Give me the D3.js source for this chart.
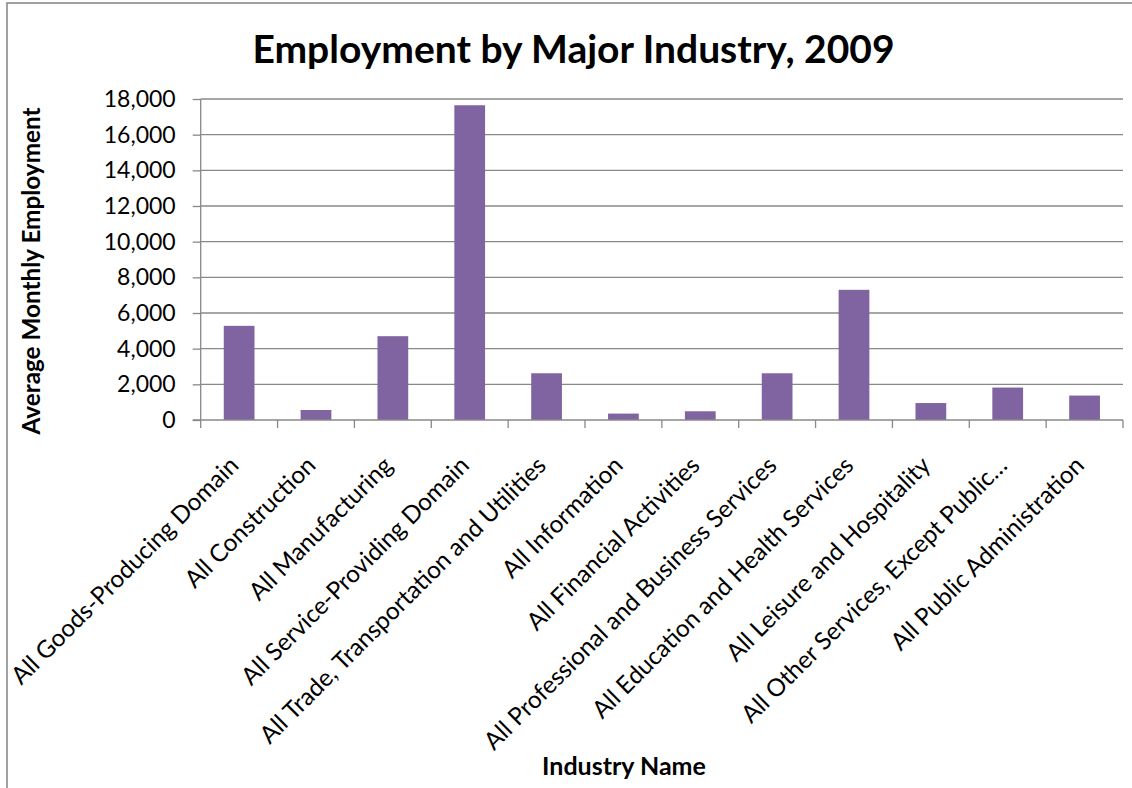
<!DOCTYPE html>
<html>
<head>
<meta charset="utf-8">
<script src="https://cdn.jsdelivr.net/npm/d3@7/dist/d3.min.js"></script>
<style>
  html, body { margin: 0; padding: 0; background: #fff; }
  svg { display: block; }
  text { font-family: Lato, "Noto Sans", "DejaVu Sans", sans-serif; fill: #000; }
</style>
</head>
<body>
<svg id="chart" width="1132" height="788"></svg>
<script>
// Average monthly employment by major industry, 2009
const industries = [
  "All Goods-Producing Domain",
  "All Construction",
  "All Manufacturing",
  "All Service-Providing Domain",
  "All Trade, Transportation and Utilities",
  "All Information",
  "All Financial Activities",
  "All Professional and Business Services",
  "All Education and Health Services",
  "All Leisure and Hospitality",
  "All Other Services, Except Public…",
  "All Public Administration"
];
const employment = [5280, 560, 4700, 17650, 2620, 360, 490, 2620, 7300, 950, 1820, 1370];
const yTicks = [0, 2000, 4000, 6000, 8000, 10000, 12000, 14000, 16000, 18000];

const chartTitle = "Employment by Major Industry, 2009";
const xTitle = "Industry Name";
const yTitle = "Average Monthly Employment";

const svg = d3.select("#chart");

const plot = { left: 200.7, right: 1123, top: 99, bottom: 420 };
const barColor = "#8064A2";
const gridColor = "#888888";

// chart frame (only the top and left edges fall inside the view)
svg.append("rect")
  .attr("x", 7).attr("y", 3)
  .attr("width", 1200).attr("height", 900)
  .attr("fill", "none")
  .attr("stroke", "#8a8a8a")
  .attr("stroke-width", 1.6);

const x = d3.scaleBand()
  .domain(industries)
  .range([plot.left, plot.right])
  .paddingInner(0.6)
  .paddingOuter(0.3);

const y = d3.scaleLinear()
  .domain([0, 18000])
  .range([plot.bottom, plot.top]);

// horizontal gridlines
svg.append("g")
  .selectAll("line")
  .data(yTicks.filter(d => d > 0))
  .join("line")
  .attr("x1", plot.left)
  .attr("x2", plot.right)
  .attr("y1", d => y(d))
  .attr("y2", d => y(d))
  .attr("stroke", gridColor)
  .attr("stroke-width", 1.3);

// bars
svg.append("g")
  .selectAll("rect")
  .data(industries.map((name, i) => ({ name, value: employment[i] })))
  .join("rect")
  .attr("x", d => x(d.name))
  .attr("width", x.bandwidth())
  .attr("y", d => y(d.value))
  .attr("height", d => y(0) - y(d.value))
  .attr("fill", barColor);

// y axis
const yAxis = svg.append("g")
  .attr("transform", `translate(${plot.left},0)`)
  .call(d3.axisLeft(y)
    .tickValues(yTicks)
    .tickFormat(d3.format(","))
    .tickSize(8)
    .tickPadding(17));
yAxis.selectAll("path, line").attr("stroke", gridColor).attr("stroke-width", 1.3);
yAxis.select(".domain").attr("d", `M0,${plot.top}V${plot.bottom}`);
yAxis.selectAll("text")
  .attr("font-family", "Lato")
  .attr("font-size", 23)
  .attr("fill", "#000");

// x axis line and boundary ticks between categories
const step = x.step();
const bounds = d3.range(industries.length + 1).map(i => plot.left + i * step);
svg.append("line")
  .attr("x1", plot.left - 8).attr("x2", plot.right)
  .attr("y1", plot.bottom).attr("y2", plot.bottom)
  .attr("stroke", gridColor).attr("stroke-width", 1.3);
svg.append("g")
  .selectAll("line")
  .data(bounds)
  .join("line")
  .attr("x1", d => d).attr("x2", d => d)
  .attr("y1", plot.bottom).attr("y2", plot.bottom + 8)
  .attr("stroke", gridColor).attr("stroke-width", 1.3);

// rotated category labels
svg.append("g")
  .selectAll("text")
  .data(industries)
  .join("text")
  .attr("transform", d => `translate(${x(d) + x.bandwidth() / 2 + 1},467) rotate(-45)`)
  .attr("text-anchor", "end")
  .attr("font-size", 24.3)
  .text(d => d);

// titles
svg.append("text")
  .attr("x", 573.5).attr("y", 63)
  .attr("text-anchor", "middle")
  .attr("font-size", 39)
  .attr("font-weight", 700)
  .text(chartTitle);

svg.append("text")
  .attr("x", 624).attr("y", 775)
  .attr("text-anchor", "middle")
  .attr("font-size", 25)
  .attr("font-weight", 700)
  .text(xTitle);

svg.append("text")
  .attr("transform", "translate(40,271) rotate(-90)")
  .attr("text-anchor", "middle")
  .attr("font-size", 24.3)
  .attr("font-weight", 700)
  .text(yTitle);
</script>
</body>
</html>
